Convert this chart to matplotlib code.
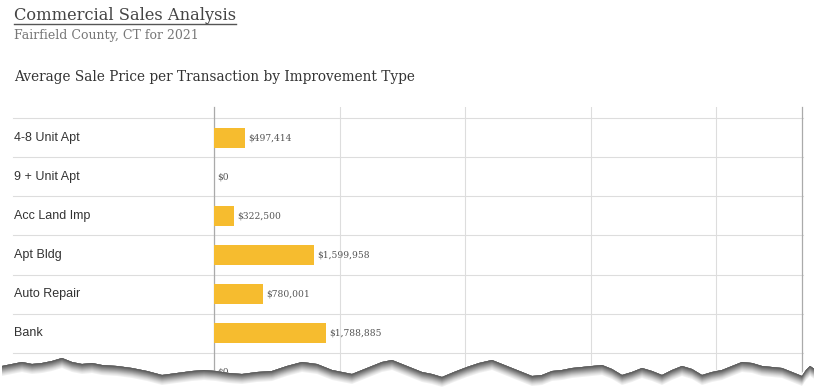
import matplotlib.pyplot as plt
import numpy as np

# Average sale price per transaction, Fairfield County CT, 2021
categories = ['4-8 Unit Apt', '9 + Unit Apt', 'Acc Land Imp', 'Apt Bldg',
              'Auto Repair', 'Bank', 'Charitable Org']
avg_price = [497414, 0, 322500, 1599958, 780001, 1788885, 0]

x_ticks = [0, 2e6, 4e6, 6e6, 8e6]

W, H = 814, 390
fig = plt.figure(figsize=(W / 100, H / 100), dpi=100)

# pixel -> figure fraction helpers
def fx(px):
    return px / W

def fy(py):
    return 1 - py / H

# header text
title_font = 'DejaVu Serif'
fig.text(fx(14), fy(20.5), 'Commercial Sales Analysis', fontsize=11.7,
         family=title_font, color='#444444', va='baseline')
fig.add_artist(plt.Line2D([fx(14), fx(236)], [fy(23.5), fy(23.5)],
                          color='#555555', linewidth=1))
fig.text(fx(14), fy(39), 'Fairfield County, CT for 2021', fontsize=9.0,
         family=title_font, color='#777777', va='baseline')
fig.text(fx(14), fy(81), 'Average Sale Price per Transaction by Improvement Type',
         fontsize=9.8, family=title_font, color='#333333', va='baseline')

# chart area: rows are 39px tall, first row centred at y=138
row_h = 39
y0 = 138
ax_top, ax_bot = 107, 390
ax_left, ax_right = 214, 802
px_per_val = (ax_right - ax_left) / 9.37e6
ax = fig.add_axes([fx(ax_left), fy(ax_bot), fx(ax_right) - fx(ax_left),
                   (ax_bot - ax_top) / H])
ax.set_ylim((ax_bot - y0) / row_h, (ax_top - y0) / row_h)
ax.set_xlim(0, 9.37e6)

ypos = np.arange(len(categories))
ax.barh(ypos, avg_price, height=0.52, color='#F6BC2F', zorder=3)

for y, v, name in zip(ypos, avg_price, categories):
    ax.text(v + 3 / px_per_val, y, f'${v:,.0f}', va='center', ha='left',
            fontsize=6.6, family=title_font, color='#555555', zorder=4)
    ax.text(-200 / px_per_val, y, name, va='center', ha='left',
            fontsize=9, family='Liberation Sans', color='#333333',
            clip_on=False)

# row separator lines, running out into the label column
for y in np.arange(len(categories)) - 0.5:
    ax.plot([-201 / px_per_val, 9.37e6 + 1 / px_per_val], [y, y],
            color='#dddddd', linewidth=0.8, clip_on=False, zorder=1)

ax.set_xticks(x_ticks)
ax.grid(axis='x', color='#dddddd', linewidth=0.8, zorder=0)
ax.tick_params(left=False, bottom=False, labelleft=False, labelbottom=False)
for side in ['top', 'bottom']:
    ax.spines[side].set_visible(False)
for side in ['left', 'right']:
    ax.spines[side].set_color('#aaaaaa')
    ax.spines[side].set_linewidth(0.9)

# torn-paper edge at the bottom of the screenshot (decoration only)
tear_x = [0, 10, 20, 30, 40, 50, 60, 70, 80, 90, 100, 115, 130, 145, 160,
          175, 190, 202, 214, 227, 240, 255, 270, 285, 300, 315, 330, 340,
          350, 360, 370, 380, 390, 405, 420, 430, 440, 452, 465, 477, 490,
          505, 520, 530, 540, 550, 560, 570, 580, 590, 600, 610, 620, 630,
          640, 650, 660, 670, 680, 690, 700, 710, 720, 730, 740, 750, 760,
          770, 780, 790, 800, 804, 808, 811, 814]
tear_y = [366, 364, 362, 364, 363, 361, 358, 362, 364, 363, 365, 366, 368,
          371, 375, 373, 371, 370, 371, 373, 374, 372, 371, 366, 362, 364,
          370, 372, 374, 370, 366, 362, 360, 366, 372, 374, 377, 372, 367,
          363, 360, 366, 372, 376, 375, 371, 370, 368, 367, 366, 365, 369,
          375, 372, 368, 371, 375, 370, 366, 369, 375, 372, 370, 366, 362,
          363, 366, 367, 368, 372, 376, 370, 366, 368, 370]
ov = fig.add_axes([0, 0, 1, 1], zorder=10)
ov.set_xlim(0, W)
ov.set_ylim(H, 0)
ov.axis('off')
ov.patch.set_alpha(0)
tx = np.array(tear_x, dtype=float)
ty = np.array(tear_y, dtype=float)
ov.fill_between(tx, ty, H + 5, color='white', linewidth=0)
shades = ['#5e5e5e', '#6e6e6e', '#7f7f7f', '#909090', '#a2a2a2',
          '#b4b4b4', '#c6c6c6', '#d6d6d6', '#e4e4e4', '#f0f0f0']
# lightest first, each darker band painted over the top part
for k in range(len(shades) - 1, -1, -1):
    ov.fill_between(tx + 2, ty, ty + k + 1, color=shades[k], linewidth=0)

fig.savefig('out.png', dpi=100)
